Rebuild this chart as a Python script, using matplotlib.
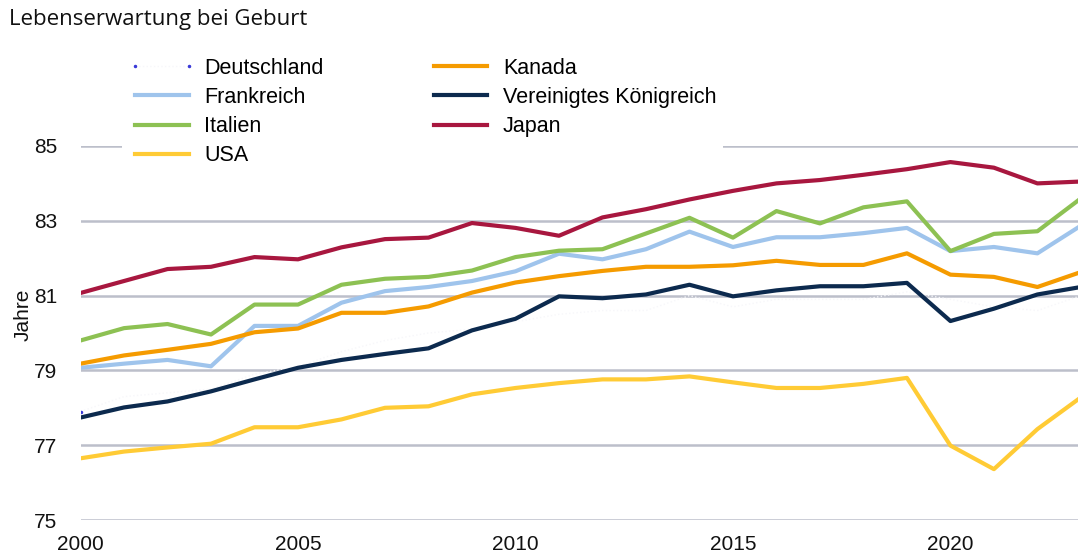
import matplotlib.pyplot as plt
from matplotlib.lines import Line2D

years = list(range(2000, 2024))

deutschland = [77.9, 78.3, 78.4, 78.5, 78.9, 79.1, 79.5, 79.8, 80.0, 80.1, 80.3, 80.5,
               80.6, 80.6, 81.0, 80.7, 80.9, 80.9, 80.9, 81.1, 80.9, 80.7, 80.6, 81.0]
frankreich = [79.07, 79.18, 79.28, 79.11, 80.19, 80.19, 80.81, 81.12, 81.23, 81.39, 81.65, 82.12,
              81.97, 82.24, 82.71, 82.30, 82.56, 82.56, 82.67, 82.81, 82.19, 82.30, 82.13, 82.87]
italien = [79.80, 80.13, 80.24, 79.96, 80.76, 80.76, 81.29, 81.45, 81.50, 81.67, 82.03, 82.20,
           82.24, 82.66, 83.08, 82.55, 83.26, 82.93, 83.36, 83.52, 82.19, 82.65, 82.72, 83.60]
usa = [76.65, 76.83, 76.94, 77.04, 77.48, 77.48, 77.69, 78.00, 78.04, 78.36, 78.53, 78.66,
       78.76, 78.76, 78.84, 78.68, 78.53, 78.53, 78.64, 78.80, 76.99, 76.36, 77.43, 78.28]
kanada = [79.18, 79.40, 79.55, 79.71, 80.02, 80.12, 80.54, 80.54, 80.71, 81.08, 81.35, 81.52,
          81.66, 81.77, 81.77, 81.81, 81.93, 81.82, 81.82, 82.13, 81.56, 81.50, 81.23, 81.63]
uk = [77.74, 78.01, 78.17, 78.44, 78.76, 79.07, 79.28, 79.44, 79.59, 80.07, 80.38, 80.98,
      80.93, 81.03, 81.29, 80.98, 81.14, 81.25, 81.25, 81.34, 80.32, 80.65, 81.03, 81.23]
japan = [81.07, 81.39, 81.71, 81.77, 82.03, 81.97, 82.29, 82.51, 82.55, 82.94, 82.81, 82.60,
         83.09, 83.31, 83.57, 83.80, 84.00, 84.09, 84.23, 84.38, 84.57, 84.42, 84.00, 84.05]

y_ticks = [75, 77, 79, 81, 83, 85]
x_ticks = [2000, 2005, 2010, 2015, 2020]

plt.rcParams['font.family'] = ['Liberation Sans', 'DejaVu Sans']

fig = plt.figure(figsize=(10.78, 5.57), dpi=100)
ax = fig.add_axes([0.0747, 0.0664, 0.928, 0.6715])

ax.set_axisbelow(True)
ax.grid(axis='y', color='#bcbfca', linewidth=1.8)
ax.grid(axis='x', visible=False)
for s in ax.spines.values():
    s.set_visible(False)

lw = 3
de_color = '#f7f7fa'
ax.plot(years, deutschland, color=de_color, linewidth=1, linestyle=':',
        marker='.', markersize=3, markevery=[0], markerfacecolor='#3a3ad8',
        markeredgecolor='#3a3ad8', zorder=2)
ax.plot(years, frankreich, color='#9fc4ec', linewidth=lw, zorder=3)
ax.plot(years, italien, color='#8dc153', linewidth=lw, zorder=4)
ax.plot(years, usa, color='#ffcb35', linewidth=lw, zorder=3)
ax.plot(years, kanada, color='#f59b00', linewidth=lw, zorder=3)
ax.plot(years, uk, color='#0c2a4e', linewidth=lw, zorder=3)
ax.plot(years, japan, color='#a8173f', linewidth=lw, zorder=3)

ax.set_xlim(2000, 2023)
ax.set_ylim(75, 85)
ax.set_yticks(y_ticks)
ax.set_xticks(x_ticks)
ax.tick_params(length=0, labelsize=15, colors='#111111')
ax.tick_params(axis='y', pad=16.5)
ax.tick_params(axis='x', pad=11)
ax.set_ylabel('Jahre', fontsize=15, color='#111111')
ax.yaxis.set_label_coords(-0.048, 0.549)

handles = [
    Line2D([], [], color=de_color, linewidth=1, linestyle=':', marker='.', markersize=3,
           markerfacecolor='#3a3ad8', markeredgecolor='#3a3ad8'),
    Line2D([], [], color='#9fc4ec', linewidth=lw),
    Line2D([], [], color='#8dc153', linewidth=lw),
    Line2D([], [], color='#ffcb35', linewidth=lw),
    Line2D([], [], color='#f59b00', linewidth=lw),
    Line2D([], [], color='#0c2a4e', linewidth=lw),
    Line2D([], [], color='#a8173f', linewidth=lw),
]
labels = ['Deutschland', 'Frankreich', 'Italien', 'USA',
          'Kanada', 'Vereinigtes Königreich', 'Japan']
fig.legend(handles, labels, loc='upper left', bbox_to_anchor=(0.1136, 0.908),
           ncol=2, fontsize=15.5, frameon=True, facecolor='white', edgecolor='none',
           framealpha=1, fancybox=False, borderpad=0.3, borderaxespad=0,
           handlelength=3.07, handletextpad=0.42, columnspacing=4.84,
           labelspacing=0.38, numpoints=2)

fig.text(0.008, 0.965, 'Lebenserwartung bei Geburt', fontsize=16,
         family='Open Sans', va='center', ha='left', color='#111111')

plt.savefig('out.png', dpi=100)
